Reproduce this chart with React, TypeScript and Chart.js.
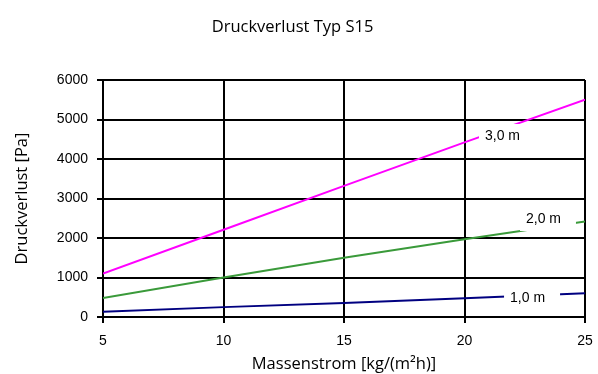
import React, { useEffect, useRef } from "react";
import { Chart, registerables } from "chart.js";

Chart.register(...registerables);

const massenstrom = [5, 10, 15, 20, 25];
const druck30 = [1100, 2210, 3320, 4420, 5500];
const druck20 = [480, 1000, 1500, 1970, 2420];
const druck10 = [130, 250, 355, 473, 600];
const seriesNames = ["3,0 m", "2,0 m", "1,0 m"];
const seriesColors = ["#ff00ff", "#3a9a3a", "#000080"];
const labelX = [20.85, 22.55, 21.89];
const labelY = [4582, 2481, 481];
const yTicks = [0, 1000, 2000, 3000, 4000, 5000, 6000];
const xTicks = [5, 10, 15, 20, 25];

const labelPlugin = {
  id: "lineLabels",
  afterDatasetsDraw(chart: any) {
    const { ctx, scales } = chart;
    ctx.save();
    ctx.font = "14px 'Liberation Sans', Arial, sans-serif";
    ctx.textBaseline = "middle";
    ctx.textAlign = "left";
    seriesNames.forEach((name, i) => {
      const px = scales.x.getPixelForValue(labelX[i]);
      const py = scales.y.getPixelForValue(labelY[i]);
      ctx.fillStyle = "#ffffff";
      ctx.fillRect(px - 6, py - 12, 56, 24);
      ctx.fillStyle = "#000000";
      ctx.fillText(name, px, py);
    });
    ctx.restore();
  },
};

export default function App() {
  const ref = useRef<HTMLCanvasElement>(null);
  useEffect(() => {
    if (!ref.current) return;
    const data = [druck30, druck20, druck10];
    const chart = new Chart(ref.current, {
      type: "line",
      data: {
        datasets: data.map((d, i) => ({
          label: seriesNames[i],
          data: d.map((v, j) => ({ x: massenstrom[j], y: v })),
          borderColor: seriesColors[i],
          backgroundColor: seriesColors[i],
          borderWidth: 2,
          pointRadius: 0,
          tension: 0,
          fill: false,
        })),
      },
      options: {
        responsive: false,
        animation: false,
        layout: { padding: { left: 0, right: 13, top: 0, bottom: 0 } },
        plugins: {
          legend: { display: false },
          tooltip: { enabled: false },
          title: {
            display: true,
            text: "Druckverlust Typ S15",
            color: "#000",
            font: { family: "'Open Sans', sans-serif", size: 16.5, weight: "normal" },
            padding: { top: 17, bottom: 43.2 },
          },
        },
        scales: {
          x: {
            type: "linear",
            min: 5,
            max: 25,
            afterBuildTicks: (s: any) => {
              s.ticks = xTicks.map((v) => ({ value: v }));
            },
            afterFit: (s: any) => {
              s.height = 57;
              s.paddingLeft = 0;
              s.paddingRight = 0;
            },
            border: { color: "#000", width: 2 },
            grid: { color: "#000", lineWidth: 2, tickLength: 6, drawTicks: true },
            ticks: {
              color: "#000",
              padding: 10,
              maxRotation: 0,
              callback: (v: any) => String(v),
              font: { family: "'Liberation Sans', Arial, sans-serif", size: 14 },
            },
            title: {
              display: true,
              text: "Massenstrom [kg/(m²h)]",
              color: "#000",
              font: { family: "'Open Sans', sans-serif", size: 16.5 },
              padding: { top: 0, bottom: 0 },
            },
          },
          y: {
            type: "linear",
            min: 0,
            max: 6000,
            afterBuildTicks: (s: any) => {
              s.ticks = yTicks.map((v) => ({ value: v }));
            },
            afterFit: (s: any) => {
              s.width = 103;
            },
            border: { color: "#000", width: 2 },
            grid: { color: "#000", lineWidth: 2, tickLength: 6, drawTicks: true },
            ticks: {
              color: "#000",
              padding: 9,
              callback: (v: any) => String(v),
              font: { family: "'Liberation Sans', Arial, sans-serif", size: 14 },
            },
            title: {
              display: true,
              text: "Druckverlust [Pa]",
              color: "#000",
              font: { family: "'Open Sans', sans-serif", size: 16.5 },
              padding: { top: 12, bottom: 4 },
            },
          },
        },
      },
      plugins: [labelPlugin],
    });
    return () => chart.destroy();
  }, []);
  return (
    <div style={{ position: "fixed", left: 0, top: 0, width: 598, height: 374, background: "#fff" }}>
      <canvas ref={ref} width={598} height={374} />
    </div>
  );
}
